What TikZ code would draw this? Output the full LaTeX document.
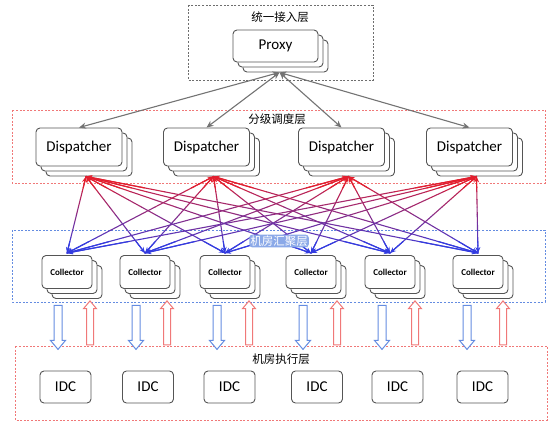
\documentclass[tikz,border=0pt]{standalone}
\usepackage{fontspec}
\setmainfont{Carlito}
\newfontfamily\cjk{Noto Sans CJK SC}
\usetikzlibrary{positioning}
\usetikzlibrary{calc}
\usetikzlibrary{shadows}
\usetikzlibrary{shapes.arrows}
\usetikzlibrary{arrows.meta}
\definecolor{boxgray}{RGB}{85,85,85}
\definecolor{linkred}{RGB}{228,30,45}
\definecolor{linkblue}{RGB}{50,60,225}
\definecolor{framered}{RGB}{240,120,120}
\definecolor{frameblue}{RGB}{100,140,225}
\definecolor{framegray}{RGB}{110,110,110}
\definecolor{callgray}{RGB}{115,115,115}

\begin{document}
\begin{tikzpicture}
            [
                x=1pt, y=-1pt,
                unit/.style={rectangle, draw=boxgray, fill=white, line width=0.9pt, rounded corners=4pt, inner sep=0pt},
                stack/.style={unit, double copy shadow={shadow xshift=5pt, shadow yshift=-5pt, draw=boxgray, fill=white, line width=0.9pt}},
                proxy/.style={stack, minimum width=85pt, minimum height=32pt, font=\fontsize{15}{15}\selectfont},
                dispatcher/.style={stack, minimum width=86pt, minimum height=38pt, font=\fontsize{15}{15}\selectfont},
                collector/.style={stack, minimum width=50pt, minimum height=33pt, font=\fontsize{9}{9}\selectfont\bfseries},
                idc/.style={unit, minimum width=51pt, minimum height=32pt, font=\fontsize{15}{15}\selectfont},
                layer/.style={dash pattern=on 2pt off 1.6pt, line width=1pt},
                title/.style={font=\cjk\fontsize{11.5}{11.5}\selectfont, inner sep=1pt},
                call/.style={draw=callgray, line width=1.1pt, {Stealth[length=7pt,width=6pt]}-{Stealth[length=7pt,width=6pt]}},
                link/.style={line width=1.1pt, line cap=round},
                down/.style={single arrow, draw=frameblue, fill=white, line width=1pt, inner sep=3.5pt, minimum height=44pt, single arrow head extend=3.5pt, single arrow tip angle=80, shape border rotate=270},
                up/.style={single arrow, draw=framered, fill=white, line width=1pt, inner sep=3pt, minimum height=44pt, single arrow head extend=3pt, single arrow tip angle=80, shape border rotate=90}
            ]
            \useasboundingbox (0,0) rectangle (558,432);
            %layers
            \draw[layer, draw=framegray] (188,5) rectangle (373,80);
            \draw[layer, draw=framered] (12,110) rectangle (545,183);
            \draw[layer, draw=frameblue] (12,230) rectangle (545,302);
            \draw[layer, draw=framered] (15,346) rectangle (547,420);
            %nodes
            \node[proxy] at (275.5,46)                      (proxy)     {Proxy};
            \node[dispatcher] at (79,147)                   (d1)        {Dispatcher};
            \node[dispatcher] at (206.5,147)                (d2)        {Dispatcher};
            \node[dispatcher] at (341.5,147)                (d3)        {Dispatcher};
            \node[dispatcher] at (469.5,147)                (d4)        {Dispatcher};
            \node[collector] at (67,272)                    (c1)        {Collector};
            \node[collector] at (145,272)                   (c2)        {Collector};
            \node[collector] at (225,272)                   (c3)        {Collector};
            \node[collector] at (311,272)                   (c4)        {Collector};
            \node[collector] at (390,272)                   (c5)        {Collector};
            \node[collector] at (478,272)                   (c6)        {Collector};
            \node[idc] at (65.5,387)                        (i1)        {IDC};
            \node[idc] at (148,387)                         (i2)        {IDC};
            \node[idc] at (229.5,387)                       (i3)        {IDC};
            \node[idc] at (317,387)                         (i4)        {IDC};
            \node[idc] at (397.5,387)                       (i5)        {IDC};
            \node[idc] at (482.5,387)                       (i6)        {IDC};
            %titles
            \node[title] at (280,17)                        (access)    {统一接入层};
            \node[title] at (277,119)                       (dispatch)  {分级调度层};
            \node[title] at (281,359)                       (execute)   {机房执行层};
            %anchors
            \coordinate (pf) at ([shift={(4pt,-10pt)}]proxy.south);
            \foreach \d in {1,...,4}
                \coordinate (d\d f) at ([shift={(7pt,-10pt)}]d\d.south);
            \foreach \c in {1,...,6}
                \coordinate (c\c t) at ([yshift=2pt]c\c.north);
            %arrows
            \foreach \d in {1,...,4}
                \draw[call] (pf) -- (d\d.north);
            \foreach \d in {1,...,4}
                \foreach \c in {1,...,6}
                {
                    \foreach \k in {0,...,9}
                    {
                        \pgfmathtruncatemacro\mix{95-10*\k}
                        \draw[link, draw=linkred!\mix!linkblue] ($(d\d f)!\k/10!(c\c t)$) -- ($(d\d f)!\k/10+0.1!(c\c t)$);
                    }
                    \draw[link, draw=linkblue, -{Stealth[length=6pt,width=5pt]}] ($(d\d f)!0.85!(c\c t)$) -- (c\c t);
                    \draw[link, draw=linkred, -{Stealth[length=6pt,width=5pt]}] ($(d\d f)!0.15!(c\c t)$) -- (d\d f);
                }
            \node[title, fill=frameblue!75, text=white, rounded corners=3pt] at (279,241) (gather) {机房汇聚层};
            %hollow arrows
            \node[down] at (58,325)     (a1)    {};
            \node[up]   at (90,325)     (b1)    {};
            \node[down] at (136,325)    (a2)    {};
            \node[up]   at (167,325)    (b2)    {};
            \node[down] at (217,325)    (a3)    {};
            \node[up]   at (249,325)    (b3)    {};
            \node[down] at (303,325)    (a4)    {};
            \node[up]   at (337,325)    (b4)    {};
            \node[down] at (382,325)    (a5)    {};
            \node[up]   at (415,325)    (b5)    {};
            \node[down] at (467,325)    (a6)    {};
            \node[up]   at (503,325)    (b6)    {};
        \end{tikzpicture}
\end{document}
